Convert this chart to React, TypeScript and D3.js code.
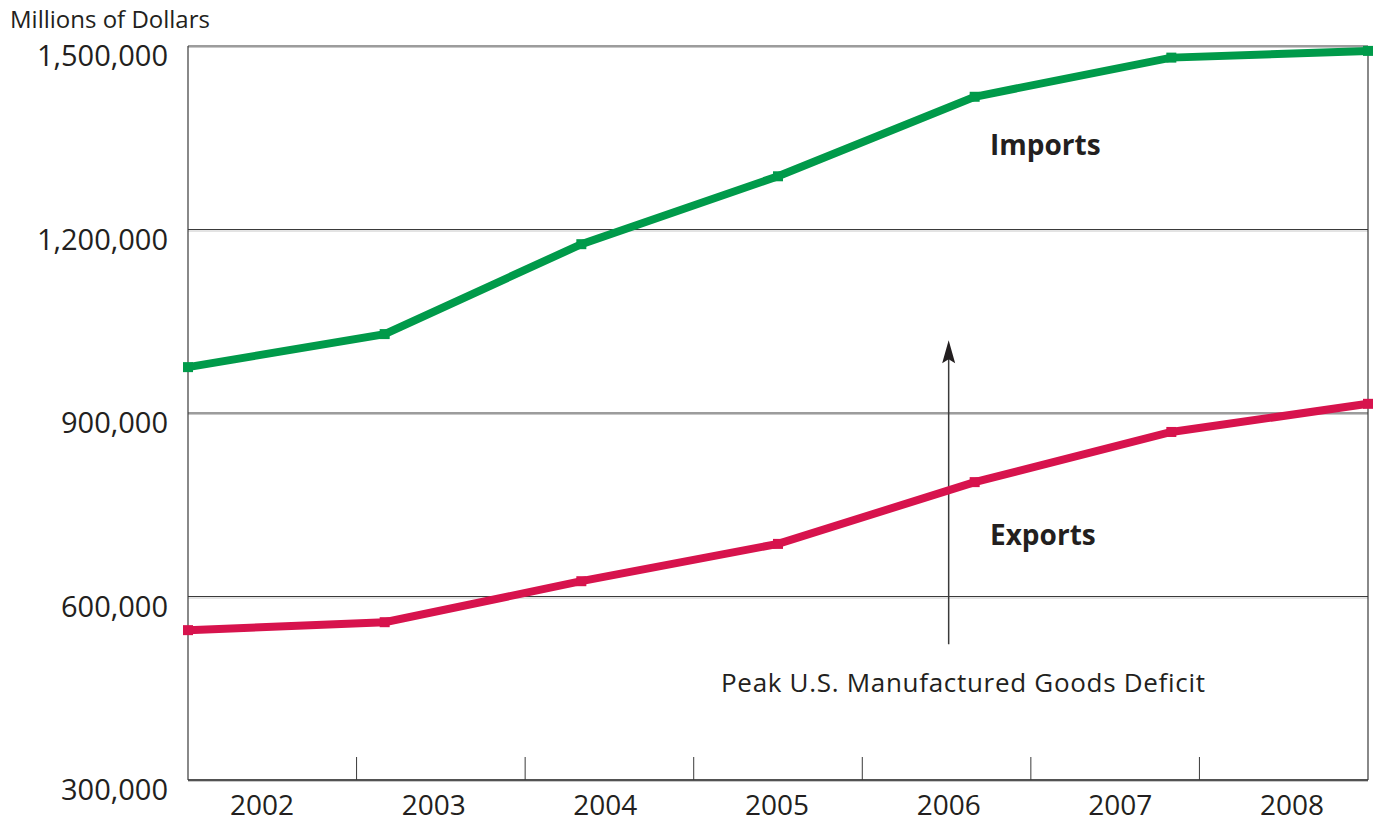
import React from "react";
import * as d3 from "d3";

const years = ["2002", "2003", "2004", "2005", "2006", "2007", "2008"];
const imports = [975000, 1029000, 1176000, 1287000, 1417000, 1481000, 1492000];
const exportsVals = [545000, 558000, 625000, 686000, 787000, 869000, 915000];
const yTicks = [300000, 600000, 900000, 1200000, 1500000];
const yAxisTitle = "Millions of Dollars";
const annotation = "Peak U.S. Manufactured Goods Deficit";
const annotationYear = "2006";
const annotationFrom = 522000;
const annotationTo = 1019000;

const W = 1377;
const H = 823;
const L = 188;
const R = 1368;
const T = 46;
const B = 780;
const FONT = "'Open Sans', 'Noto Sans', sans-serif";
const TEXT = "#231f20";
const GREEN = "#009a4a";
const RED = "#d7134d";

export default function App() {
  const x = d3.scalePoint<string>().domain(years).range([L, R]);
  const xBand = d3.scaleBand<string>().domain(years).range([L, R]).padding(0);
  const xLabel = d3.scalePoint<string>().domain(years).range([262, 1292]);
  const y = d3.scaleLinear().domain([300000, 1500000]).range([B, T]);
  const fmt = d3.format(",");

  const line = d3
    .line<number>()
    .x((_, i) => x(years[i]) as number)
    .y((d) => y(d));

  const series = [
    { name: "Imports", values: imports, color: GREEN, labelX: 990, labelY: 155 },
    { name: "Exports", values: exportsVals, color: RED, labelX: 990, labelY: 545 },
  ];

  const ax = xLabel(annotationYear) as number;
  const ayTip = y(annotationTo);
  const ayBottom = y(annotationFrom);

  return (
    <svg
      width={W}
      height={H}
      style={{ position: "absolute", left: 0, top: 0, background: "#fff" }}
    >
      <text x={10} y={28} fontFamily={FONT} fontSize={24} fill={TEXT}>
        {yAxisTitle}
      </text>

      {/* gridlines */}
      {yTicks.map((t) => (
        <g key={t}>
          <line x1={L} x2={R} y1={y(t) + 1.5} y2={y(t) + 1.5} stroke="#c8c8c8" strokeWidth={1} />
          <line x1={L} x2={R} y1={y(t)} y2={y(t)} stroke="#3a3a3a" strokeWidth={1.2} />
          <text
            x={168}
            y={y(t) + 20}
            textAnchor="end"
            fontFamily={FONT}
            fontSize={29}
            fill={TEXT}
          >
            {fmt(t)}
          </text>
        </g>
      ))}

      {/* frame */}
      <line x1={L} x2={L} y1={T} y2={B} stroke="#3a3a3a" strokeWidth={1.2} />
      <line x1={R} x2={R} y1={T} y2={B} stroke="#3a3a3a" strokeWidth={1.2} />
      <line x1={L} x2={R} y1={B} y2={B} stroke="#3a3a3a" strokeWidth={1.5} />

      {/* x ticks */}
      {years.slice(1).map((yr) => (
        <line
          key={yr}
          x1={xBand(yr) as number}
          x2={xBand(yr) as number}
          y1={B - 23}
          y2={B}
          stroke="#3a3a3a"
          strokeWidth={1}
        />
      ))}
      {years.map((yr) => (
        <text
          key={yr}
          x={xLabel(yr) as number}
          y={815}
          textAnchor="middle"
          fontFamily={FONT}
          fontSize={28}
          fill={TEXT}
        >
          {yr}
        </text>
      ))}

      {/* annotation arrow */}
      <line x1={ax} x2={ax} y1={ayBottom} y2={ayTip + 18} stroke="#3a3a3a" strokeWidth={1.5} />
      <path
        d={`M${ax},${ayTip} L${ax - 6.5},${ayTip + 23} L${ax},${ayTip + 19} L${ax + 6.5},${ayTip + 23} Z`}
        fill={TEXT}
      />
      <text
        x={721}
        y={692}
        fontFamily={FONT}
        fontSize={26}
        letterSpacing={0.7}
        fill={TEXT}
      >
        {annotation}
      </text>

      {/* series */}
      {series.map((s) => (
        <g key={s.name}>
          <path
            d={line(s.values) || ""}
            fill="none"
            stroke={s.color}
            strokeWidth={8}
            strokeLinejoin="miter"
          />
          {s.values.map((v, i) => (
            <rect
              key={i}
              x={(x(years[i]) as number) - 5}
              y={y(v) - 5}
              width={10}
              height={10}
              fill={s.color}
            />
          ))}
          <text
            x={s.labelX}
            y={s.labelY}
            fontFamily={FONT}
            fontSize={28}
            fontWeight="bold"
            fill={TEXT}
          >
            {s.name}
          </text>
        </g>
      ))}
    </svg>
  );
}
